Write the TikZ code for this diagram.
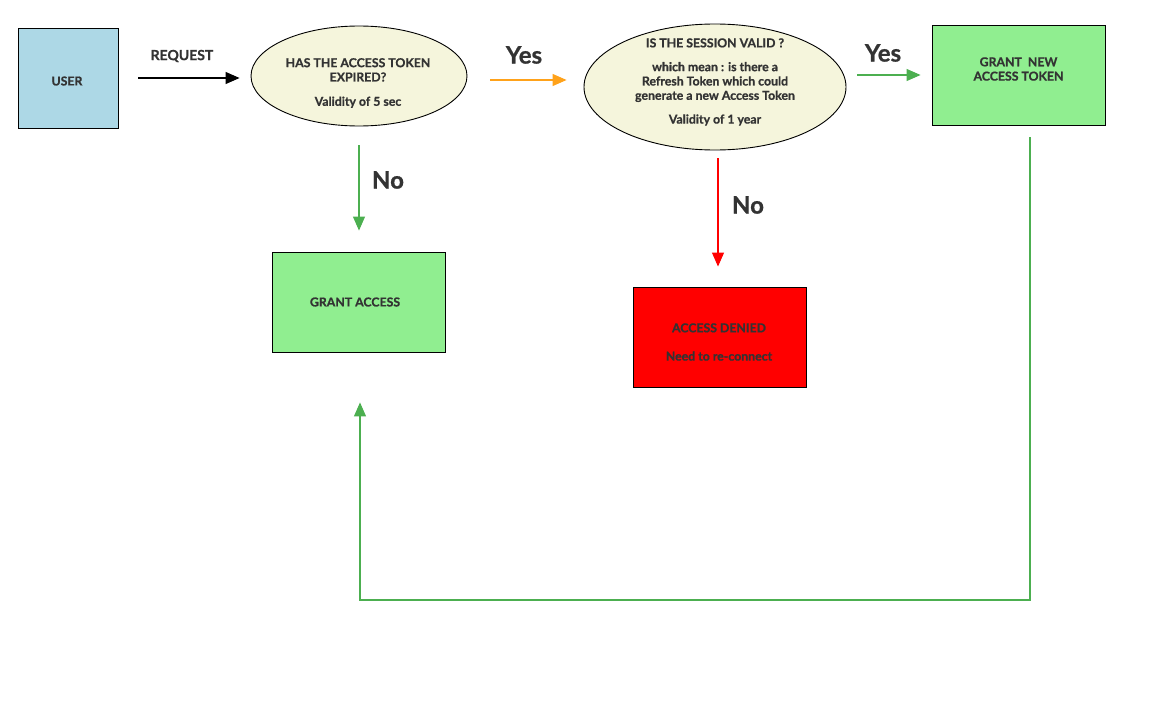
\documentclass[tikz,border=0pt]{standalone}
\usepackage{fontspec}
\setmainfont{Lato}[BoldFeatures={FakeBold=0.8}]
\usetikzlibrary{shapes.geometric,arrows.meta}
\definecolor{inkgray}{HTML}{333333}
\definecolor{userblue}{HTML}{ADD8E6}
\definecolor{okgreen}{HTML}{90EE90}
\definecolor{qbeige}{HTML}{F5F5DC}
\definecolor{arrowgreen}{HTML}{4CAF50}
\definecolor{arroworange}{HTML}{FFA21A}
\tikzset{
  box/.style={draw=black, line width=0.9pt, minimum width=173pt, minimum height=100pt, inner sep=0pt},
  question/.style={ellipse, draw=black, line width=0.9pt, fill=qbeige, inner sep=0pt},
  boxtext/.style={text=inkgray, font=\fontsize{12.3}{14.3}\selectfont\bfseries, align=center, inner sep=0pt},
  answer/.style={text=inkgray, font=\fontsize{24}{28}\selectfont\bfseries, inner sep=0pt},
  flow/.style={line width=1.1pt, -{Triangle[length=14pt,width=12pt]}},
}
\begin{document}
\begin{tikzpicture}[x=1pt, y=-1pt]
\useasboundingbox (0,0) rectangle (1153,701);

% boxes
\node[box, fill=userblue, minimum width=100pt] (user) at (68,78) {};
\node[boxtext] (usertxt) at (67,81) {USER};

\node[question, minimum width=216pt, minimum height=100pt] (exp) at (359,76) {};
\node[boxtext] (exptxt) at (358,83) {HAS THE ACCESS TOKEN\\EXPIRED?\\[10pt]Validity of 5 sec};

\node[question, minimum width=262pt, minimum height=126pt] (sess) at (715,87) {};
\node[boxtext] (sesstxt) at (715,82) {IS THE SESSION VALID ?\\[9.5pt]which mean : is there a\\Refresh Token which could\\generate a new Access Token\\[9.5pt]Validity of 1 year};

\node[box, fill=okgreen] (newtok) at (1018.5,75) {};
\node[boxtext] (newtoktxt) at (1018.5,69) {GRANT\ \ NEW\\ACCESS TOKEN};

\node[box, fill=okgreen] (grant) at (358.5,302) {};
\node[boxtext] (granttxt) at (355,302) {GRANT ACCESS};

\node[box, fill=red] (denied) at (719.5,337) {};
\node[boxtext] (deniedtxt) at (719,342) {ACCESS DENIED\\[14pt]Need to re-connect};

% connectors
\draw[flow, black, shorten <=20pt, shorten >=11pt] (user.east) -- (user.east -| exp.west);
\node[text=inkgray, font=\fontsize{14}{16}\selectfont\bfseries, inner sep=0pt] (reqlbl) at (182,56) {REQUEST};

\draw[flow, arroworange, shorten <=23pt, shorten >=17pt] ([yshift=-4pt]exp.east) -- ([yshift=-4pt]exp.east -| sess.west);
\node[answer] (yes1) at (524,55) {Yes};

\draw[flow, arrowgreen, shorten <=11pt, shorten >=11pt] (sess.east |- newtok.west) -- (newtok.west);
\node[answer] (yes2) at (883,53) {Yes};

\draw[flow, arrowgreen, shorten <=19pt, shorten >=21pt] (exp.south) -- (exp.south |- grant.north);
\node[answer] (no1) at (388,180) {No};

\draw[flow, red, shorten <=8pt, shorten >=20pt] ([xshift=3pt]sess.south) -- ([xshift=3pt]sess.south |- denied.north);
\node[answer] (no2) at (748,205) {No};

\coordinate (loopbase) at (0,600);
\draw[flow, arrowgreen, shorten <=12pt, shorten >=50pt]
  ([xshift=11.5pt]newtok.south) -- ([xshift=11.5pt]newtok.south |- loopbase)
  -| ([xshift=1.5pt]grant.south);
\end{tikzpicture}
\end{document}
